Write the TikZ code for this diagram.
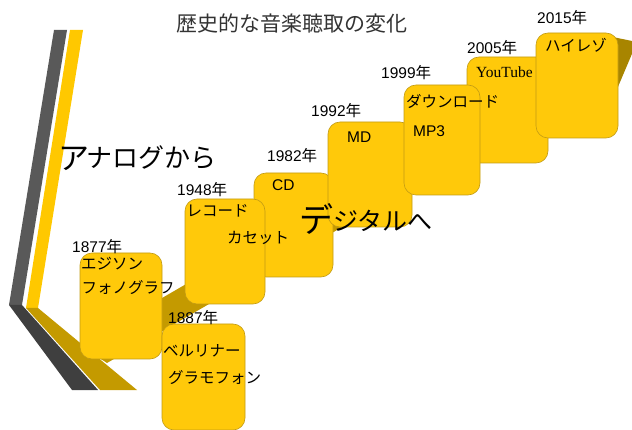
\documentclass[tikz,border=0pt]{standalone}
\usepackage{fontspec}
\setmainfont{Liberation Sans}
\newfontfamily\jp{Noto Sans CJK JP}
\newfontfamily\ytserif{Liberation Serif}
\definecolor{boxfill}{HTML}{FFC90A}
\definecolor{boxedge}{HTML}{C29B14}
\definecolor{bandc}{HTML}{C49A00}
\definecolor{headc}{HTML}{A88500}
\definecolor{greyA}{HTML}{595959}
\definecolor{greyB}{HTML}{3F3F3F}
\definecolor{yelc}{HTML}{FFC800}
\definecolor{titlec}{HTML}{333333}
\newcommand{\yrlab}[1]{#1{\jp 年}}
\begin{document}
\begin{tikzpicture}[x=1pt,y=-1pt,
  box/.style={draw=boxedge, fill=boxfill, line width=0.6pt, rounded corners=12pt, inner sep=0pt},
  yr/.style={anchor=base west, inner sep=0pt, font=\fontsize{15.5}{18}\selectfont},
  lab/.style={anchor=base west, inner sep=0pt, font=\jp\fontsize{15.5}{18}\selectfont},
  latin/.style={anchor=base west, inner sep=0pt, font=\fontsize{15.5}{18}\selectfont},
  big/.style={anchor=base west, inner sep=0pt, font=\jp\fontsize{#1}{40}\selectfont},
  mid/.style={anchor=base west, inner sep=0pt, font=\jp\fontsize{#1}{30}\selectfont},
]
\useasboundingbox (0,0) rectangle (632,430);
\clip (0,0) rectangle (632,430);
% left stripes
\fill[greyA] (54,30) -- (67,30) -- (22,305) -- (9,305) -- cycle;
\fill[greyB] (9,305) -- (22,305) -- (98,390) -- (72,390) -- cycle;
\fill[yelc] (70,30) -- (83,30) -- (38,308) -- (26,308) -- cycle;
\fill[bandc] (26,308) -- (38,308) -- (137,390) -- (100,390) -- cycle;
% rising band and arrow head
\fill[bandc] (80,345.6) -- (107,363) -- (607,74) -- (600,44) -- cycle;
\fill[headc] (598,34) -- (637,42) -- (612,101) -- cycle;
% boxes
\node[box, minimum width=82pt, minimum height=106pt] (b1877) at (121,306) {};
\node[box, minimum width=83pt, minimum height=106pt] (b1887) at (203.5,377) {};
\node[box, minimum width=79pt, minimum height=104pt] (b1982) at (293.5,225) {};
\node[box, minimum width=80pt, minimum height=105pt] (b1948) at (225,251.5) {};
\node[box, minimum width=84pt, minimum height=105pt] (b1992) at (370,174.5) {};
\node[box, minimum width=81pt, minimum height=106pt] (b2005) at (507.5,110) {};
\node[box, minimum width=76pt, minimum height=110pt] (b1999) at (442,140) {};
\node[box, minimum width=82pt, minimum height=105pt] (b2015) at (577,85.5) {};
% title
\node[anchor=base west, inner sep=0pt, font=\jp\fontsize{21}{24}\selectfont, text=titlec] (title) at (176,32) {歴史的な音楽聴取の変化};
% big texts
\node[big=31] (an1) at (58,169.5) {ア};
\node[mid=26] (an2) at (86,168) {ナログから};
\node[big=34] (de1) at (299,233) {デ};
\node[mid=25] (de2) at (333,231) {ジタルへ};
% year labels
\node[yr] (y1877) at (72,253) {\yrlab{1877}};
\node[yr] (y1887) at (168,324) {\yrlab{1887}};
\node[yr] (y1948) at (177,196) {\yrlab{1948}};
\node[yr] (y1982) at (267,161.5) {\yrlab{1982}};
\node[yr] (y1992) at (311,117) {\yrlab{1992}};
\node[yr] (y1999) at (381,79) {\yrlab{1999}};
\node[yr] (y2005) at (467,54) {\yrlab{2005}};
\node[yr] (y2015) at (537,24) {\yrlab{2015}};
% box texts
\node[lab] (t1) at (81,270) {エジソン};
\node[lab] (t2) at (81.5,294) {フォノグラフ};
\node[lab] (t3) at (163,356) {ベルリナー};
\node[lab] (t4) at (168,384) {グラモフォン};
\node[lab] (t5) at (186.5,217) {レコード};
\node[lab] (t6) at (227,244) {カセット};
\node[latin] (t7) at (272,190.5) {CD};
\node[latin] (t8) at (347,143) {MD};
\node[lab] (t9) at (406,107.5) {ダウンロード};
\node[latin] (t10) at (413,137) {MP3};
\node[anchor=base west, inner sep=0pt, font=\ytserif\fontsize{15.5}{18}\selectfont] (t11) at (476,78) {YouTube};
\node[lab] (t12) at (545,52) {ハイレゾ};
\end{tikzpicture}
\end{document}
